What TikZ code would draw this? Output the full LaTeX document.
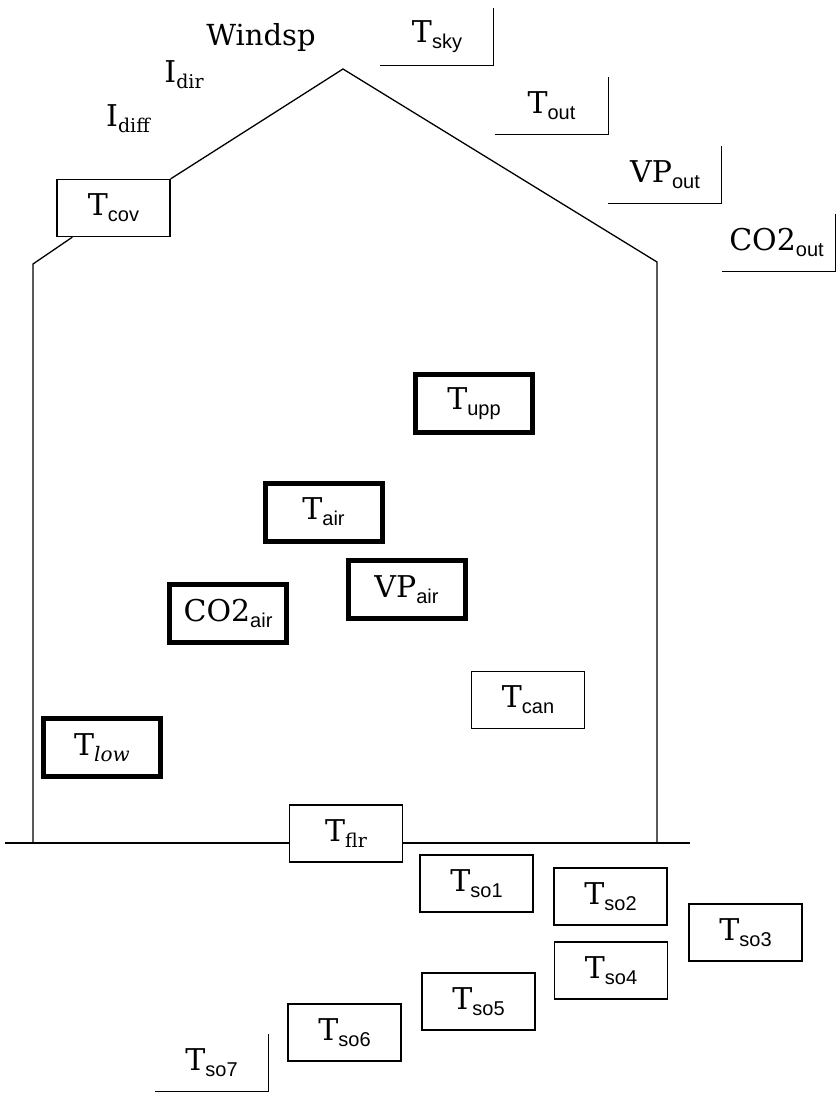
\documentclass[tikz,border=0pt]{standalone}
\usepackage{fontspec}
\setmainfont{DejaVu Serif}
\newfontfamily\subsf{Liberation Sans}
\newcommand{\mylab}[2]{{\fontsize{30}{30}\selectfont #1}\raisebox{-6pt}{\fontsize{20}{20}\selectfont\subsf #2}}
\newcommand{\mylabr}[2]{{\fontsize{30}{30}\selectfont #1}\raisebox{-6pt}{\fontsize{19}{19}\selectfont #2}}
\begin{document}
\begin{tikzpicture}[x=1pt,y=-1pt,
  thinbox/.style={draw, line width=1.3pt, fill=white, minimum width=113pt, minimum height=57pt, inner sep=0pt},
  thickbox/.style={draw, line width=5pt, fill=white, minimum width=117pt, minimum height=58pt, inner sep=0pt},
  openbox/.style={minimum width=113pt, minimum height=57pt, inner sep=0pt},
  plain/.style={inner sep=0pt},
  wall/.style={line width=1.3pt}]
\fill[white] (0,0) rectangle (837,1093);
\useasboundingbox (0,0) rectangle (837,1093);

% outside labels
\node[plain, anchor=base] (windsp) at (261,45) {\fontsize{29}{29}\selectfont Windsp};
\node[plain, anchor=base] (idir) at (184,82) {\mylabr{I}{dir}};
\node[plain, anchor=base] (idiff) at (128,126) {\mylabr{I}{diff}};

% open boxes
\node[openbox] (sky) at (437,37) {\mylab{T}{sky}};
\node[openbox] (out) at (551.5,105.5) {\mylab{T}{out}};
\node[openbox] (vpout) at (665,174.5) {\mylab{VP}{out}};
\node[openbox] (co2out) at (778.5,242.5) {\hspace*{-4pt}\mylab{CO2}{out}};
\node[openbox] (so7) at (211.5,1062.5) {\mylab{T}{so7}};
\foreach \n in {sky,out,vpout,co2out,so7}
  \draw[wall] (\n.south west) -- (\n.south east) -- (\n.north east);

% thin boxes
\node[thinbox] (cov) at (113.5,208) {\mylab{T}{cov}};
\node[thinbox] (flr) at (346,833.5) {\mylabr{T}{flr}};
\node[thinbox] (can) at (528,700) {\mylab{T}{can}};
\node[thinbox] (so1) at (476.5,883.5) {\mylab{T}{so1}};
\node[thinbox] (so2) at (610.5,896.5) {\mylab{T}{so2}};
\node[thinbox] (so3) at (745.5,932.5) {\mylab{T}{so3}};
\node[thinbox] (so4) at (611,970.5) {\mylab{T}{so4}};
\node[thinbox] (so5) at (478.5,1001.5) {\mylab{T}{so5}};
\node[thinbox] (so6) at (344.5,1032.5) {\mylab{T}{so6}};

% thick boxes
\node[thickbox] (upp) at (474,403.5) {\mylab{T}{upp}};
\node[thickbox] (air) at (323.5,512) {\mylab{T}{air}};
\node[thickbox] (vpair) at (406.5,589.5) {\mylab{VP}{air}};
\node[thickbox] (co2air) at (228,613.5) {\mylab{CO2}{air}};
\node[thickbox] (low) at (102,747.5) {{\fontsize{30}{30}\selectfont T}\raisebox{-6pt}{\fontsize{20}{20}\selectfont\itshape low}};

% house outline
\coordinate (apex) at (343,69);
\coordinate (rr) at (657,262);
\coordinate (rg) at (657,843);
\coordinate (ll) at (33,264);
\coordinate (lg) at (33,843);
\coordinate (g0) at (5,843);
\coordinate (g1) at (690,843);
\draw[wall] (cov.north east) -- (apex) -- (rr) -- (rg);
\draw[wall] ([xshift=16pt]cov.south west) -- (ll) -- (lg);
\draw[wall] (g0) -- (g0 -| flr.west);
\draw[wall] (g1 -| flr.east) -- (g1);
\end{tikzpicture}
\end{document}
